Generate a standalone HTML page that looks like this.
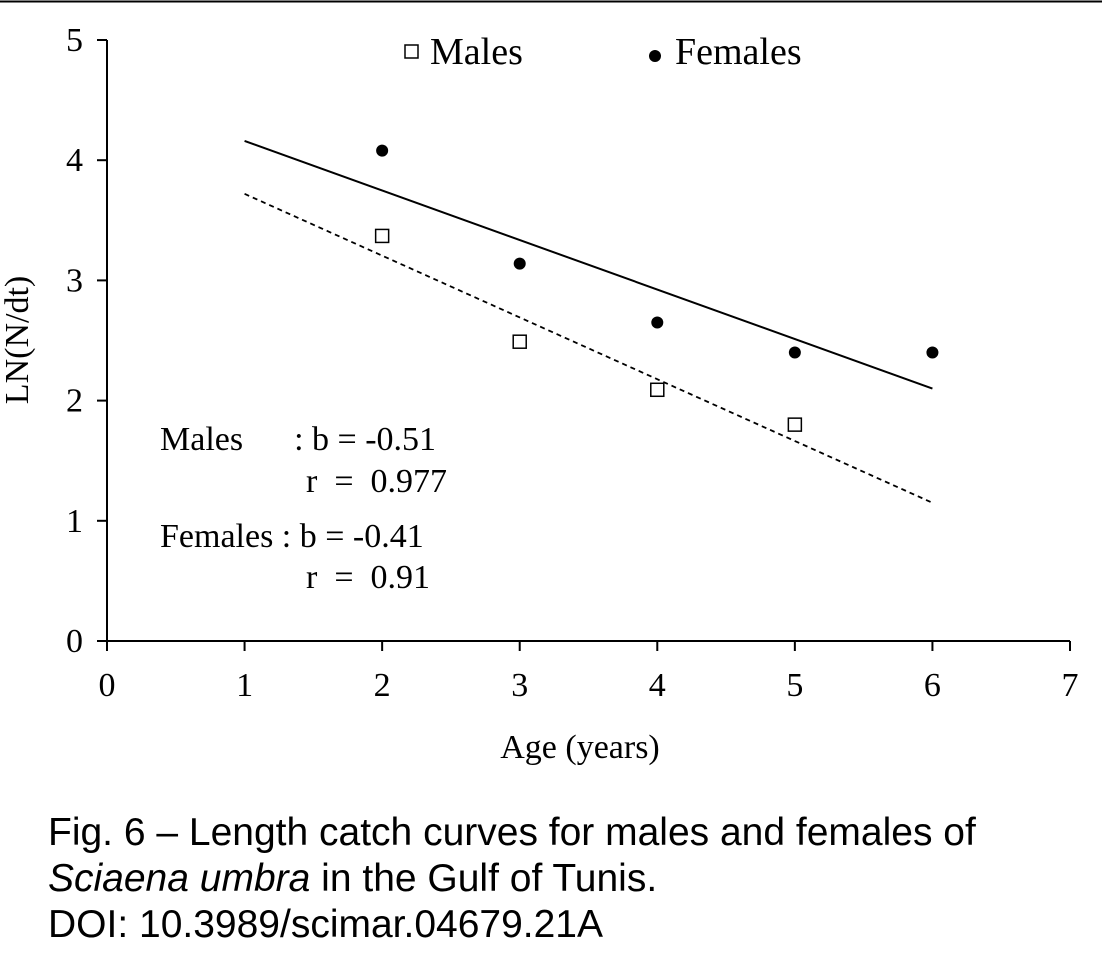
<!DOCTYPE html>
<html><head><meta charset="utf-8"><style>
html,body{margin:0;padding:0;background:#fff;}
svg{display:block;}
.s{font-family:"Liberation Serif",serif;}
.a{font-family:"Liberation Sans",sans-serif;}
</style></head><body>
<svg width="1102" height="972" viewBox="0 0 1102 972">
<line x1="0" y1="1.5" x2="1102" y2="1.5" stroke="#000" stroke-width="2"/>
<g id="plot"></g>
<text class="s" x="580" y="758" font-size="34" text-anchor="middle">Age (years)</text>
<text class="s" transform="translate(28,340) rotate(-90)" font-size="34" text-anchor="middle">LN(N/dt)</text>
<rect x="405" y="45" width="13" height="13" fill="#fff" stroke="#000" stroke-width="1.5"/>
<text class="s" x="430" y="64" font-size="38">Males</text>
<circle cx="655" cy="56" r="6" fill="#000"/>
<text class="s" x="675" y="64" font-size="38">Females</text>
<g class="s" font-size="34">
<text x="160" y="450" xml:space="preserve">Males      : b = -0.51</text>
<text x="306" y="492" xml:space="preserve">r  =  0.977</text>
<text x="160" y="547" xml:space="preserve">Females : b = -0.41</text>
<text x="306" y="588" xml:space="preserve">r  =  0.91</text>
</g>
<g class="a" font-size="39">
<text x="48" y="845">Fig. 6 – Length catch curves for males and females of</text>
<text x="48" y="891"><tspan font-style="italic">Sciaena umbra</tspan> in the Gulf of Tunis.</text>
<text x="48" y="937">DOI: 10.3989/scimar.04679.21A</text>
</g>
</svg>
<script>
const xTicks=[0,1,2,3,4,5,6,7];
const yTicks=[0,1,2,3,4,5];
const femaleAges=[2,3,4,5,6];
const femaleValues=[4.08,3.14,2.65,2.40,2.40];
const maleAges=[2,3,4,5];
const maleValues=[3.37,2.49,2.09,1.80];
const femaleFitX=[1,6];
const femaleFitY=[4.16,2.10];
const maleFitX=[1,6];
const maleFitY=[3.72,1.15];

const X0=107,X1=1070,Y0=641,Y1=40;
const sx=v=>X0+(v-0)/(7-0)*(X1-X0);
const sy=v=>Y0-(v-0)/(5-0)*(Y0-Y1);
const NS="http://www.w3.org/2000/svg";
const g=document.getElementById('plot');
function mk(t,a){const e=document.createElementNS(NS,t);for(const k in a)e.setAttribute(k,a[k]);g.appendChild(e);return e;}

let e=mk('line',{x1:X0,y1:Y0,x2:X1,y2:Y0,stroke:'#000','stroke-width':2});


e=mk('line',{x1:X0,y1:Y0,x2:X0,y2:Y1,stroke:'#000','stroke-width':2});



xTicks.forEach(t=>{
 let l=mk('line',{x1:sx(t),y1:Y0,x2:sx(t),y2:Y0+10,stroke:'#000','stroke-width':2});
 
 
 let tx=mk('text',{x:sx(t),y:Y0+55,'font-size':34,'text-anchor':'middle','class':'s'});
 tx.textContent=t;
 
 
});
yTicks.forEach(t=>{
 let l=mk('line',{x1:X0-10,y1:sy(t),x2:X0,y2:sy(t),stroke:'#000','stroke-width':2});
 
 
 let tx=mk('text',{x:X0-24,y:sy(t)+11,'font-size':34,'text-anchor':'end','class':'s'});
 tx.textContent=t;
 
 
});

e=mk('line',{x1:sx(femaleFitX[0]),y1:sy(femaleFitY[0]),x2:sx(femaleFitX[1]),y2:sy(femaleFitY[1]),stroke:'#000','stroke-width':2});


e=mk('line',{x1:sx(maleFitX[0]),y1:sy(maleFitY[0]),x2:sx(maleFitX[1]),y2:sy(maleFitY[1]),stroke:'#000','stroke-width':1.8,'stroke-dasharray':'5,4'});



femaleAges.forEach((a,i)=>{
 let c=mk('circle',{cx:sx(a),cy:sy(femaleValues[i]),r:6,fill:'#000'});
 
 
});
maleAges.forEach((a,i)=>{
 let r=mk('rect',{x:sx(a)-6.5,y:sy(maleValues[i])-6.5,width:13,height:13,fill:'#fff',stroke:'#000','stroke-width':1.5});
 
 
});
</script>
</body></html>
